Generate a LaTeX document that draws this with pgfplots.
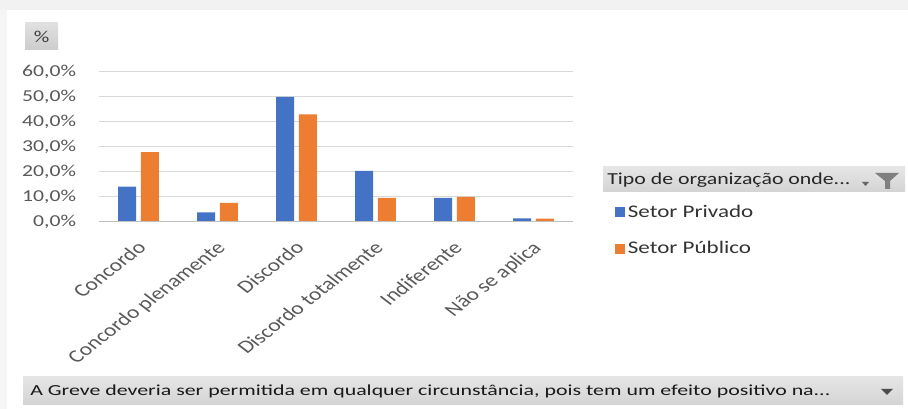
\documentclass[border=0pt]{standalone}
\usepackage{fontspec}
\setmainfont{Carlito}[FakeStretch=1.3]
\newfontfamily\calp{Carlito}
\usepackage{graphicx}
\usepackage{pgfplots}
\pgfplotsset{compat=1.18}
\definecolor{privado}{HTML}{4472C4}
\definecolor{publico}{HTML}{ED7D31}
\definecolor{txt}{HTML}{595959}
\definecolor{gridc}{HTML}{D9D9D9}

\begin{document}
\begin{tikzpicture}
% frame, buttons and field boxes (1 px = 0.75pt, y downwards)
\begin{scope}[x=0.75pt,y=-0.75pt,shift={(0pt,306.75pt)}]
  \useasboundingbox (0,0) rectangle (908,409);
  \fill[white] (0,0) rectangle (908,409);
  \fill[black!5] (0,0) rectangle (908,10);
  \fill[black!4] (0,10) rectangle (7,409);
  % "%" button
  \shade[top color=black!12, bottom color=black!20] (25,23) rectangle (58,50);
  \node[font=\fontsize{12.5}{14}\selectfont, text=black!75] at (41.5,36.5) {\%};
  % legend header
  \shade[top color=black!10, bottom color=black!17] (603,167) rectangle (905,192);
  \node[anchor=west, inner sep=0pt, font=\fontsize{12.6}{15}\selectfont, text=black!85] at (607,180) {Tipo de organização onde...};
  \fill[black!60] (862,182) -- (869,182) -- (865.5,186) -- cycle;
  \fill[black!50] (875,173) -- (899,173) -- (890,181) -- (890,189) -- (885,189) -- (885,181) -- cycle;
  % bottom field box
  \shade[top color=black!10, bottom color=black!17] (23,377) rectangle (903,405);
  \node[anchor=west, inner sep=0pt, text=black!90] at (30,391)
    {\resizebox{600pt}{\height}{\calp\fontsize{11.5}{13}\selectfont A Greve deveria ser permitida em qualquer circunstância, pois tem um efeito positivo na...}};
  \fill[black!70] (881,389) -- (893,389) -- (887,395) -- cycle;
\end{scope}

\begin{axis}[
    at={(74.25pt,140.25pt)}, anchor=south west,
    scale only axis,
    width=355.5pt, height=112.5pt,
    ybar=3.5pt, bar width=13.5pt,
    xmin=-0.5, xmax=5.5, ymin=0, ymax=60,
    xtick={0,...,5},
    xticklabels={Concordo, Concordo plenamente, Discordo, Discordo totalmente, Indiferente, Não se aplica},
    ytick={0,10,...,60},
    yticklabel={\pgfmathprintnumber[fixed,fixed zerofill,precision=1,use comma]{\tick}\%},
    /pgf/number format/assume math mode=true,
    axis line style={draw=none},
    major tick length=0pt,
    ymajorgrids, grid style={gridc, line width=0.75pt},
    yticklabel style={font=\fontsize{12.5}{14}\selectfont, text=txt, inner sep=0pt, xshift=-17pt},
    xticklabel style={font=\calp\fontsize{13.5}{15}\selectfont, text=txt,
        xshift=-2pt, yshift=-12pt, xscale=1.3, rotate=45, anchor=north east, inner sep=1pt},
    legend style={at={(1.08,0.15)}, anchor=north west, draw=none, fill=none,
        font=\fontsize{13.3}{15}\selectfont, text=black!80,
        row sep=12.5pt, cells={anchor=west}},
    legend image code/.code={\fill[#1] (0pt,-3.75pt) rectangle (7.5pt,3.75pt);},
    clip=false,
]
\addplot[fill=privado, draw=none] coordinates {(0,14.1) (1,3.8) (2,50.0) (3,20.4) (4,9.6) (5,1.45)};
\addplot[fill=publico, draw=none] coordinates {(0,27.9) (1,7.6) (2,43.0) (3,9.6) (4,10.0) (5,1.3)};
\legend{Setor Privado, Setor Público}
\draw[black!25, line width=0.75pt] (axis cs:-0.5,0) -- (axis cs:5.5,0);
\end{axis}
\end{tikzpicture}
\end{document}
